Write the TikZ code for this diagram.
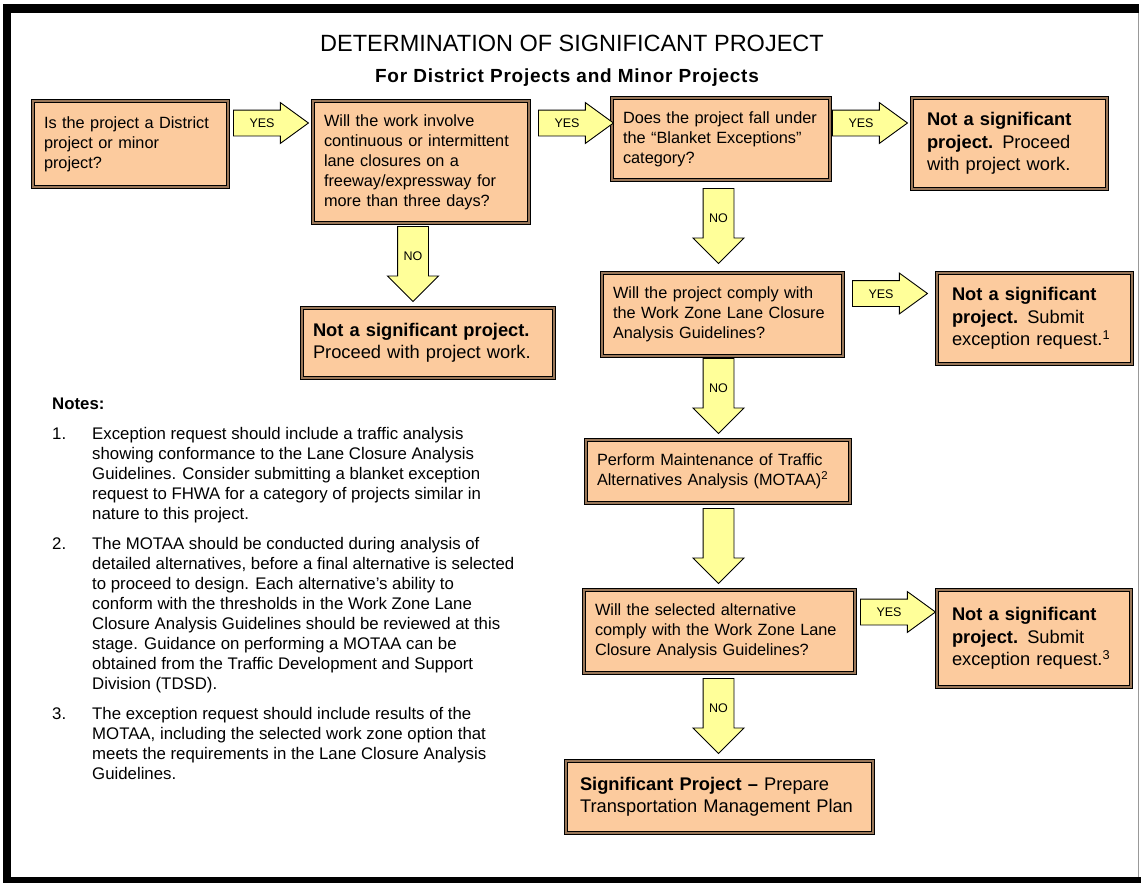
\documentclass[tikz,border=0pt]{standalone}
\usepackage{fontspec}
\setmainfont{Liberation Sans}
\usetikzlibrary{shapes.arrows,positioning}

\definecolor{boxfill}{RGB}{252,203,158}
\definecolor{boxedge}{RGB}{152,118,88}
\definecolor{arrowfill}{RGB}{255,255,153}

\newcommand{\qsize}{\fontsize{16.3}{20}\selectfont}
\newcommand{\osize}{\fontsize{18.3}{22.5}\selectfont}
\newcommand{\lsize}{\fontsize{12.5}{14}\selectfont}
\newcommand{\nsize}{\fontsize{16.8}{20}\selectfont}

\tikzset{
  qbox/.style={draw=black, line width=1pt, double=boxedge, double distance=2.6pt,
    fill=boxfill, inner xsep=11pt, inner ysep=0pt, align=left, font=\qsize},
  obox/.style={qbox, inner xsep=15pt, font=\osize},
  yesarrow/.style={single arrow, draw=black, line width=0.9pt, fill=arrowfill,
    minimum height=75pt, text height=9pt, text depth=0pt, inner ysep=8pt, inner xsep=3pt,
    single arrow head extend=7.5pt, single arrow tip angle=72, anchor=tail, font=\lsize},
  noarrow/.style={yesarrow, shape border rotate=270, text width=20pt, align=center,
    inner xsep=5pt, single arrow head extend=10pt, single arrow tip angle=90},
  notenum/.style={anchor=base west, inner sep=0pt, font=\nsize},
  notetext/.style={anchor=north west, inner sep=0pt, align=left, font=\nsize}
}

\begin{document}
\begin{tikzpicture}[x=1pt, y=-1pt]
    \useasboundingbox (0,0) rectangle (1141,883);

    % Frame
    \fill[black] (3,4) rectangle (1139,13);
    \fill[black] (3,4) rectangle (11,883);
    \fill[black] (3,877) rectangle (1141,883);
    \draw[black!40, line width=1.5pt] (1138.5,13) -- (1138.5,877);

    % Title
    \node[anchor=base, font=\fontsize{23.5}{28}\selectfont] (title) at (572,52) {DETERMINATION OF SIGNIFICANT PROJECT};
    \node[anchor=base, font=\fontsize{19}{23}\selectfont\bfseries\addfontfeature{LetterSpace=4}] (subtitle) at (567,83) {For District Projects and Minor Projects};

    % Questions
    \node[qbox, text width=173pt, minimum height=86pt] (district) at (130.5,144) {Is the project a District\\project or minor\\project?};
    \node[qbox, text width=194pt, minimum height=122pt] (closure) at (421,162) {Will the work involve\\continuous or intermittent\\lane closures on a\\freeway/expressway for\\more than three days?};
    \node[qbox, text width=196pt, minimum height=82pt] (blanket) at (721,139) {Does the project fall under\\the “Blanket Exceptions”\\category?};
    \node[qbox, text width=219pt, minimum height=83pt] (comply) at (722.5,314.5) {Will the project comply with\\the Work Zone Lane Closure\\Analysis Guidelines?};
    \node[qbox, text width=242pt, minimum height=63pt] (motaa) at (718,471.5) {Perform Maintenance of Traffic\\Alternatives Analysis (MOTAA)\textsuperscript{2}};
    \node[qbox, text width=249pt, minimum height=83pt] (selected) at (719.5,631.5) {Will the selected alternative\\comply with the Work Zone Lane\\Closure Analysis Guidelines?};

    % Outcomes
    \node[obox, text width=165pt, minimum height=91pt] (proceed) at (1009.5,143.5) {\textbf{Not a significant}\\\textbf{project.}\hspace{0.5em}Proceed\\with project work.};
    \node[obox, inner xsep=11pt, text width=230pt, minimum height=70pt] (proceedB) at (428,343) {\textbf{Not a significant project.}\\Proceed with project work.};
    \node[obox, text width=165pt, minimum height=91pt] (submitA) at (1034.5,318.5) {\textbf{Not a significant}\\\textbf{project.}\hspace{0.5em}Submit\\exception request.\textsuperscript{1}};
    \node[obox, text width=164pt, minimum height=97pt] (submitB) at (1034,638.5) {\textbf{Not a significant}\\\textbf{project.}\hspace{0.5em}Submit\\exception request.\textsuperscript{3}};
    \node[obox, inner xsep=14pt, text width=279pt, minimum height=72pt] (tmp) at (719.5,797) {\textbf{Significant Project –} Prepare\\Transportation Management Plan};

    % Yes arrows
    \node[yesarrow] (yes1) at (233,123) {YES};
    \node[yesarrow] (yes2) at (538,123) {YES};
    \node[yesarrow] (yes3) at (832,123) {YES};
    \node[yesarrow] (yes4) at (852,293.5) {YES};
    \node[yesarrow] (yes5) at (860,612) {YES};

    % No arrows
    \node[noarrow] (no1) at (413,226) {NO};
    \node[noarrow] (no2) at (718.5,188) {NO};
    \node[noarrow] (no3) at (718.5,358) {NO};
    \node[noarrow] (next) at (718.5,508) {};
    \node[noarrow] (no4) at (718.5,678) {NO};

    % Notes
    \node[notenum, font=\nsize\bfseries] (notes) at (52,409) {Notes:};
    \node[notenum] (n1) at (52,439) {1.};
    \node[notetext] (note1) at (92,427) {Exception request should include a traffic analysis\\showing conformance to the Lane Closure Analysis\\Guidelines.  Consider submitting a blanket exception\\request to FHWA for a category of projects similar in\\nature to this project.};
    \node[notenum] (n2) at (52,549) {2.};
    \node[notetext] (note2) at (92,537) {The MOTAA should be conducted during analysis of\\detailed alternatives, before a final alternative is selected\\to proceed to design.  Each alternative’s ability to\\conform with the thresholds in the Work Zone Lane\\Closure Analysis Guidelines should be reviewed at this\\stage.  Guidance on performing a MOTAA can be\\obtained from the Traffic Development and Support\\Division (TDSD).};
    \node[notenum] (n3) at (52,719) {3.};
    \node[notetext] (note3) at (92,707) {The exception request should include results of the\\MOTAA, including the selected work zone option that\\meets the requirements in the Lane Closure Analysis\\Guidelines.};
\end{tikzpicture}
\end{document}
